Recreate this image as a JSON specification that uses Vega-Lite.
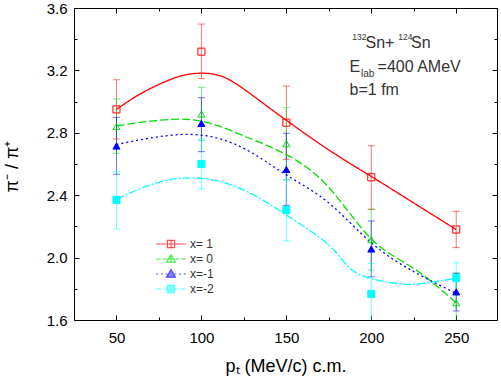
{
  "$schema": "https://vega.github.io/schema/vega-lite/v6.json",
  "width": 423,
  "height": 312,
  "autosize": "none",
  "padding": {"left": 74, "top": 8, "right": 4, "bottom": 59},
  "background": "white",
  "config": {
    "view": {"stroke": null},
    "font": "Liberation Sans",
    "axis": {
      "grid": false,
      "domainColor": "black",
      "domainWidth": 1,
      "tickColor": "black",
      "tickWidth": 1,
      "tickSize": -5,
      "labelColor": "black",
      "labelFont": "Liberation Sans",
      "labelFontSize": 15,
      "titleFont": "Liberation Sans",
      "titleFontWeight": "normal",
      "titleColor": "black",
      "titleFontSize": 18
    }
  },
  "datasets": {
    "points": [
      {"series": "x= 1", "pt": 50, "ratio": 2.95, "lo": 2.76, "hi": 3.14},
      {"series": "x= 1", "pt": 100, "ratio": 3.32, "lo": 3.147, "hi": 3.497},
      {"series": "x= 1", "pt": 150, "ratio": 2.865, "lo": 2.63, "hi": 3.1},
      {"series": "x= 1", "pt": 200, "ratio": 2.515, "lo": 2.31, "hi": 2.717},
      {"series": "x= 1", "pt": 250, "ratio": 2.18, "lo": 2.064, "hi": 2.297},
      {"series": "x= 0", "pt": 50, "ratio": 2.84, "lo": 2.668, "hi": 3.017},
      {"series": "x= 0", "pt": 100, "ratio": 2.92, "lo": 2.75, "hi": 3.092},
      {"series": "x= 0", "pt": 150, "ratio": 2.73, "lo": 2.5, "hi": 2.961},
      {"series": "x= 0", "pt": 200, "ratio": 2.115, "lo": 1.92, "hi": 2.31},
      {"series": "x= 0", "pt": 250, "ratio": 1.71, "lo": 1.52, "hi": 1.9},
      {"series": "x=-1", "pt": 50, "ratio": 2.715, "lo": 2.534, "hi": 2.899},
      {"series": "x=-1", "pt": 100, "ratio": 2.86, "lo": 2.679, "hi": 3.025},
      {"series": "x=-1", "pt": 150, "ratio": 2.565, "lo": 2.335, "hi": 2.797},
      {"series": "x=-1", "pt": 200, "ratio": 2.055, "lo": 1.877, "hi": 2.235},
      {"series": "x=-1", "pt": 250, "ratio": 1.78, "lo": 1.658, "hi": 1.9},
      {"series": "x=-2", "pt": 50, "ratio": 2.37, "lo": 2.183, "hi": 2.551},
      {"series": "x=-2", "pt": 100, "ratio": 2.6, "lo": 2.44, "hi": 2.76},
      {"series": "x=-2", "pt": 150, "ratio": 2.305, "lo": 2.108, "hi": 2.497},
      {"series": "x=-2", "pt": 200, "ratio": 1.767, "lo": 1.567, "hi": 1.963},
      {"series": "x=-2", "pt": 250, "ratio": 1.87, "lo": 1.77, "hi": 1.967}
    ],
    "curves": [
      {"series": "x= 1", "pt": 50, "ratio": 2.95},
      {"series": "x= 1", "pt": 62.5, "ratio": 3.04},
      {"series": "x= 1", "pt": 75, "ratio": 3.11},
      {"series": "x= 1", "pt": 87.5, "ratio": 3.163},
      {"series": "x= 1", "pt": 100, "ratio": 3.182},
      {"series": "x= 1", "pt": 112.5, "ratio": 3.16},
      {"series": "x= 1", "pt": 125, "ratio": 3.08},
      {"series": "x= 1", "pt": 137.5, "ratio": 2.98},
      {"series": "x= 1", "pt": 150, "ratio": 2.88},
      {"series": "x= 1", "pt": 175, "ratio": 2.69},
      {"series": "x= 1", "pt": 200, "ratio": 2.52},
      {"series": "x= 1", "pt": 225, "ratio": 2.35},
      {"series": "x= 1", "pt": 250, "ratio": 2.18},
      {"series": "x= 0", "pt": 50, "ratio": 2.845},
      {"series": "x= 0", "pt": 75, "ratio": 2.88},
      {"series": "x= 0", "pt": 100, "ratio": 2.875},
      {"series": "x= 0", "pt": 125, "ratio": 2.78},
      {"series": "x= 0", "pt": 150, "ratio": 2.66},
      {"series": "x= 0", "pt": 175, "ratio": 2.45},
      {"series": "x= 0", "pt": 200, "ratio": 2.12},
      {"series": "x= 0", "pt": 225, "ratio": 1.93},
      {"series": "x= 0", "pt": 250, "ratio": 1.71},
      {"series": "x=-1", "pt": 50, "ratio": 2.725},
      {"series": "x=-1", "pt": 75, "ratio": 2.775},
      {"series": "x=-1", "pt": 100, "ratio": 2.785},
      {"series": "x=-1", "pt": 125, "ratio": 2.7},
      {"series": "x=-1", "pt": 150, "ratio": 2.53},
      {"series": "x=-1", "pt": 175, "ratio": 2.35},
      {"series": "x=-1", "pt": 200, "ratio": 2.095},
      {"series": "x=-1", "pt": 225, "ratio": 1.91},
      {"series": "x=-1", "pt": 250, "ratio": 1.77},
      {"series": "x=-2", "pt": 50, "ratio": 2.374},
      {"series": "x=-2", "pt": 75, "ratio": 2.483},
      {"series": "x=-2", "pt": 100, "ratio": 2.508},
      {"series": "x=-2", "pt": 125, "ratio": 2.433},
      {"series": "x=-2", "pt": 150, "ratio": 2.273},
      {"series": "x=-2", "pt": 175, "ratio": 2.08},
      {"series": "x=-2", "pt": 187.5, "ratio": 1.93},
      {"series": "x=-2", "pt": 200, "ratio": 1.866},
      {"series": "x=-2", "pt": 212.5, "ratio": 1.838},
      {"series": "x=-2", "pt": 225, "ratio": 1.829},
      {"series": "x=-2", "pt": 237.5, "ratio": 1.846},
      {"series": "x=-2", "pt": 250, "ratio": 1.867}
    ],
    "legendrows": [
      {"entry": "x= 1"}, {"entry": "x= 0"}, {"entry": "x=-1"}, {"entry": "x=-2"}
    ],
    "bigtext": [
      {"label": "Sn+", "pt": 196.6, "ratio": 3.342},
      {"label": "Sn", "pt": 223.4, "ratio": 3.342},
      {"label": "E", "pt": 187.2, "ratio": 3.192},
      {"label": "=400 AMeV", "pt": 203.7, "ratio": 3.192},
      {"label": "b=1 fm", "pt": 187.2, "ratio": 3.042}
    ],
    "suptext": [
      {"label": "132", "pt": 188.8, "ratio": 3.395},
      {"label": "124", "pt": 215.9, "ratio": 3.395}
    ],
    "subtext": [
      {"label": "lab", "pt": 193.9, "ratio": 3.16}
    ]
  },
  "layer": [
    {
      "data": {"name": "points"},
      "mark": {"type": "rule", "strokeWidth": 1, "opacity": 0.55, "clip": true},
      "encoding": {
        "x": {"field": "pt", "type": "quantitative",
          "scale": {"domain": [25, 274], "nice": false, "zero": false},
          "axis": {"orient": "bottom", "values": [50, 100, 150, 200, 250], "labelPadding": 15,
            "title": "pₜ (MeV/c) c.m.", "titleY": 51, "titleBaseline": "alphabetic"}},
        "y": {"field": "lo", "type": "quantitative",
          "scale": {"domain": [1.6, 3.6], "nice": false, "zero": false},
          "axis": {"orient": "left", "values": [1.6, 2.0, 2.4, 2.8, 3.2, 3.6], "format": ".1f", "labelPadding": 12,
            "title": "π⁻ / π⁺", "titleX": -62, "titleY": 158, "titleBaseline": "middle", "titleAlign": "center", "titleAngle": -90}},
        "y2": {"field": "hi"},
        "color": {"field": "series", "type": "nominal",
          "scale": {"domain": ["x= 1", "x= 0", "x=-1", "x=-2"], "range": ["#ff0000", "#00e000", "#0000ff", "#00ffff"]},
          "legend": null}
      }
    },
    {
      "data": {"name": "points"},
      "mark": {"type": "tick", "orient": "horizontal", "size": 7, "thickness": 1, "opacity": 0.55, "clip": true},
      "encoding": {
        "x": {"field": "pt", "type": "quantitative", "axis": null},
        "y": {"field": "lo", "type": "quantitative", "axis": null},
        "color": {"field": "series", "type": "nominal", "legend": null}
      }
    },
    {
      "data": {"name": "points"},
      "mark": {"type": "tick", "orient": "horizontal", "size": 7, "thickness": 1, "opacity": 0.55, "clip": true},
      "encoding": {
        "x": {"field": "pt", "type": "quantitative", "axis": null},
        "y": {"field": "hi", "type": "quantitative", "axis": null},
        "color": {"field": "series", "type": "nominal", "legend": null}
      }
    },
    {
      "data": {"name": "curves"},
      "mark": {"type": "line", "interpolate": "natural", "strokeWidth": 1.3, "clip": true},
      "encoding": {
        "x": {"field": "pt", "type": "quantitative", "axis": null},
        "y": {"field": "ratio", "type": "quantitative", "axis": null},
        "color": {"field": "series", "type": "nominal", "legend": null},
        "strokeDash": {"field": "series", "type": "nominal",
          "scale": {"domain": ["x= 1", "x= 0", "x=-1", "x=-2"], "range": [[1, 0], [8, 3], [2, 3], [8, 2, 2, 2]]},
          "legend": null}
      }
    },
    {
      "data": {"name": "points"},
      "mark": {"type": "point", "size": 50, "strokeWidth": 1, "opacity": 1},
      "encoding": {
        "x": {"field": "pt", "type": "quantitative", "axis": null},
        "y": {"field": "ratio", "type": "quantitative", "axis": null},
        "shape": {"field": "series", "type": "nominal",
          "scale": {"domain": ["x= 1", "x= 0", "x=-1", "x=-2"], "range": ["square", "triangle-up", "triangle-up", "square"]},
          "legend": null},
        "stroke": {"field": "series", "type": "nominal",
          "scale": {"domain": ["x= 1", "x= 0", "x=-1", "x=-2"], "range": ["#ff0000", "#00e000", "#0000ff", "#00ffff"]},
          "legend": null},
        "fill": {"field": "series", "type": "nominal",
          "scale": {"domain": ["x= 1", "x= 0", "x=-1", "x=-2"], "range": ["transparent", "transparent", "#0000ff", "#00ffff"]},
          "legend": null}
      }
    },
    {
      "data": {"name": "bigtext"},
      "mark": {"type": "text", "align": "left", "baseline": "alphabetic", "fontSize": 16, "color": "#333333", "font": "Liberation Sans"},
      "encoding": {
        "x": {"field": "pt", "type": "quantitative", "axis": null},
        "y": {"field": "ratio", "type": "quantitative", "axis": null},
        "text": {"field": "label"}
      }
    },
    {
      "data": {"name": "suptext"},
      "mark": {"type": "text", "align": "left", "baseline": "alphabetic", "fontSize": 8.5, "color": "#333333", "font": "Liberation Sans"},
      "encoding": {
        "x": {"field": "pt", "type": "quantitative", "axis": null},
        "y": {"field": "ratio", "type": "quantitative", "axis": null},
        "text": {"field": "label"}
      }
    },
    {
      "data": {"name": "subtext"},
      "mark": {"type": "text", "align": "left", "baseline": "alphabetic", "fontSize": 10, "color": "#333333", "font": "Liberation Sans"},
      "encoding": {
        "x": {"field": "pt", "type": "quantitative", "axis": null},
        "y": {"field": "ratio", "type": "quantitative", "axis": null},
        "text": {"field": "label"}
      }
    },
    {
      "data": {"name": "legendrows"},
      "transform": [{"filter": "false"}],
      "mark": {"type": "point"},
      "encoding": {
        "x": {"field": "pt", "type": "quantitative",
          "axis": {"orient": "bottom", "values": [75, 125, 175, 225], "labels": false, "domain": false, "tickSize": -3, "title": null}},
        "y": {"field": "ratio", "type": "quantitative",
          "axis": {"orient": "left", "values": [1.8, 2.2, 2.6, 3.0, 3.4], "labels": false, "domain": false, "tickSize": -3, "title": null}}
      }
    },
    {
      "data": {"name": "legendrows"},
      "transform": [{"filter": "false"}],
      "mark": {"type": "point"},
      "encoding": {
        "x": {"field": "pt", "type": "quantitative",
          "axis": {"orient": "top", "values": [75, 125, 175, 225], "labels": false, "domain": false, "tickSize": -3, "title": null}},
        "y": {"field": "ratio", "type": "quantitative",
          "axis": {"orient": "right", "values": [1.8, 2.2, 2.6, 3.0, 3.4], "labels": false, "domain": false, "tickSize": -3, "title": null}}
      }
    },
    {
      "data": {"name": "legendrows"},
      "transform": [{"filter": "false"}],
      "mark": {"type": "point", "strokeWidth": 1.2},
      "encoding": {
        "x": {"field": "pt", "type": "quantitative",
          "axis": {"orient": "top", "values": [50, 100, 150, 200, 250], "labels": false, "title": null}},
        "y": {"field": "ratio", "type": "quantitative",
          "axis": {"orient": "right", "values": [1.6, 2.0, 2.4, 2.8, 3.2, 3.6], "labels": false, "title": null}},
        "shape": {"field": "entry", "type": "nominal",
          "scale": {"domain": ["x= 1", "x= 0", "x=-1", "x=-2"],
            "range": [
              "M-1.85,0H1.85M-0.45,-0.45H0.45V0.45H-0.45ZM0,-0.45V0.45",
              "M-1.85,0H-1.3M-1,0H-0.45M0.45,0H1M1.3,0H1.85M0,-0.55L0.55,0.4L-0.55,0.4ZM0,-0.55V0.4M-0.3,0H0.3",
              "M-1.85,0H-1.6M-1.25,0H-1M-0.65,0H-0.45M0.45,0H0.65M1,0H1.25M1.6,0H1.85M0,-0.55L0.55,0.4L-0.55,0.4Z",
              "M-1.85,0H-1.25M-1.05,0H-0.95M-0.75,0H-0.45M0.45,0H0.75M0.95,0H1.05M1.25,0H1.85M-0.45,-0.45H0.45V0.45H-0.45Z"
            ]},
          "legend": {"orient": "none", "legendX": 88, "legendY": 227, "title": null, "padding": 0,
            "symbolSize": 256, "symbolStrokeWidth": 1.2, "labelFontSize": 12, "labelColor": "#333333",
            "labelFont": "Liberation Sans", "labelOffset": 10, "rowPadding": -0.5, "symbolType": "circle"}},
        "stroke": {"field": "entry", "type": "nominal",
          "scale": {"domain": ["x= 1", "x= 0", "x=-1", "x=-2"], "range": ["#ff0000", "#00e000", "#0000ff", "#00ffff"]}},
        "fill": {"field": "entry", "type": "nominal",
          "scale": {"domain": ["x= 1", "x= 0", "x=-1", "x=-2"], "range": ["transparent", "transparent", "#0000ff", "#00ffff"]}}
      }
    }
  ],
  "resolve": {
    "axis": {"x": "independent", "y": "independent"},
    "scale": {"shape": "independent", "stroke": "independent", "fill": "independent"}
  }
}
